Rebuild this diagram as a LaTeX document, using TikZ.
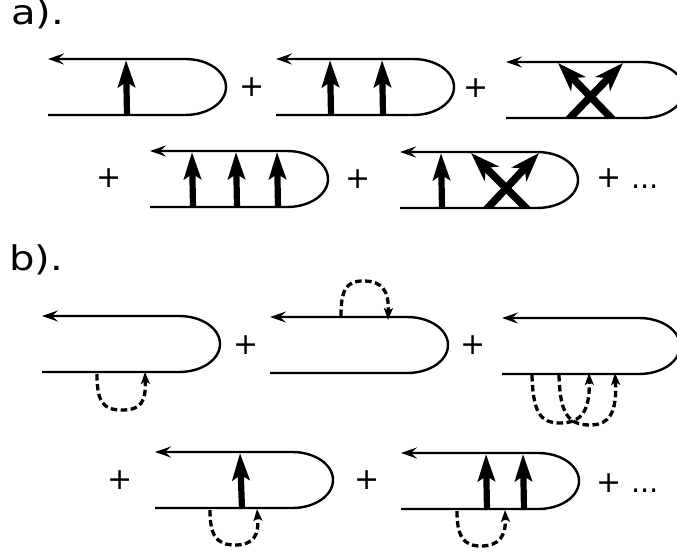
\documentclass[tikz,border=0pt]{standalone}
\usepackage{fontspec}
\setmainfont{DejaVu Sans}
\newfontfamily\headfont[FakeStretch=1.18]{DejaVu Sans}
\usetikzlibrary{arrows.meta}
\tikzset{
  wire/.style={line width=2.4pt,line join=round,-{Stealth[length=16pt,width=11pt,inset=6pt]}},
  boson/.style={line width=6.2pt,-{Stealth[length=27pt,width=17pt,inset=5pt]}},
  cross/.style={line width=7.5pt,-{Stealth[length=29pt,width=20pt,inset=8pt]}},
  ghost/.style={line width=3.3pt,dash pattern=on 6.5pt off 3.5pt,-{Stealth[length=12pt,width=9pt,inset=3pt]}},
  plus/.style={inner sep=0pt,font=\fontsize{30}{30}\selectfont},
  dots/.style={inner sep=0pt,anchor=base west,font=\fontsize{29}{29}\selectfont},
  head/.style={inner sep=0pt,anchor=base west,font=\headfont\fontsize{34}{34}\selectfont}
}
\newcommand{\hairpin}[2]{%
  \draw[wire,shift={(#1,#2)}] (0,56) -- (137,56)
    .. controls (160,56) and (178,43.5) .. (178,28)
    .. controls (178,12.5) and (160,0) .. (137,0) -- (0,0);}
\begin{document}
\begin{tikzpicture}[x=1pt,y=-1pt]
\useasboundingbox (0,0) rectangle (677,556);
\node[head] (la) at (11,25) {a).};
\node[head] (lb) at (9,270) {b).};
% row a1
\hairpin{48}{59}
\draw[boson] (127,115) -- (126,60);
\node[plus] (p1) at (252,87) {+};
\hairpin{276}{59}
\draw[boson] (331,115) -- (330,60);
\draw[boson] (383,115) -- (382,60);
\node[plus] (p2) at (476,88) {+};
\hairpin{506}{62}
\begin{scope}
\clip (540,55) rectangle (640,119);
\draw[cross] (566,122) -- (623,63);
\draw[cross] (615,122) -- (558,63);
\end{scope}
% row a2
\node[plus] (p3) at (109,178) {+};
\hairpin{150}{151}
\draw[boson] (193,207) -- (192,152);
\draw[boson] (237,207) -- (236,152);
\draw[boson] (278,207) -- (277,152);
\node[plus] (p4) at (358,179) {+};
\hairpin{400}{152}
\draw[boson] (442,208) -- (441,153);
\begin{scope}
\clip (460,145) rectangle (550,209);
\draw[cross] (484,212) -- (539,153);
\draw[cross] (530,212) -- (471,153);
\end{scope}
\node[plus] (p5) at (609,178) {+};
\node[dots] (d1) at (631,189) {...};
% row b1
\hairpin{42}{316}
\draw[ghost] (97,374) .. controls (97,402) and (103,410) .. (122,410)
  .. controls (141,410) and (146,402) .. (145,372);
\node[plus] (p6) at (246,345) {+};
\hairpin{270}{317}
\draw[ghost] (341,316) .. controls (341,290) and (346,281) .. (363,281)
  .. controls (382,281) and (389,290) .. (388,320);
\node[plus] (p7) at (473,345) {+};
\hairpin{502}{318}
\draw[ghost] (532,375) .. controls (533,412) and (540,423) .. (560,423)
  .. controls (582,423) and (590,410) .. (589,373);
\draw[ghost] (559,375) .. controls (560,412) and (567,425) .. (590,425)
  .. controls (610,425) and (617,412) .. (615,373);
% row b2
\node[plus] (p8) at (120,480) {+};
\hairpin{155}{452}
\draw[boson] (242,509) -- (240,453);
\draw[ghost] (210,510) .. controls (210,535) and (216,545) .. (235,545)
  .. controls (254,545) and (259,535) .. (257,509);
\node[plus] (p9) at (367,480) {+};
\hairpin{401}{453}
\draw[boson] (487,510) -- (486,454);
\draw[boson] (524,510) -- (523,454);
\draw[ghost] (457,511) .. controls (457,536) and (463,546) .. (481,546)
  .. controls (499,546) and (506,536) .. (505,510);
\node[plus] (p10) at (609,483) {+};
\node[dots] (d2) at (631,492) {...};
\end{tikzpicture}
\end{document}
